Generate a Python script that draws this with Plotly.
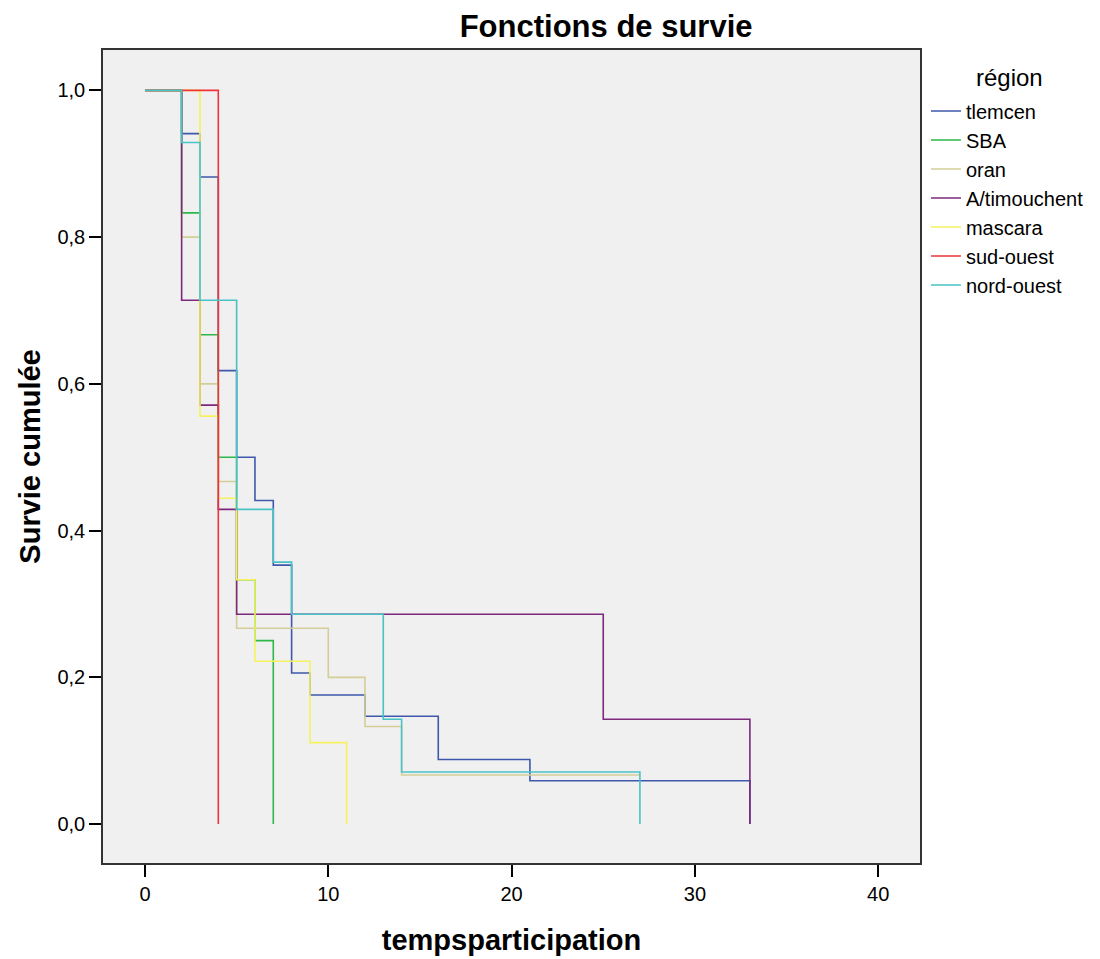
import plotly.graph_objects as go

# ---- data ----
regions = ["tlemcen", "SBA", "oran", "A/timouchent", "mascara", "sud-ouest", "nord-ouest"]

tlemcen_t = [0, 2, 3, 4, 5, 6, 7, 8, 9, 12, 16, 21, 33]
tlemcen_s = [1.0, 0.941, 0.882, 0.618, 0.500, 0.441, 0.353, 0.206, 0.176, 0.147, 0.088, 0.059, 0.0]

sba_t = [0, 2, 3, 4, 5, 6, 7]
sba_s = [1.0, 0.833, 0.667, 0.500, 0.333, 0.250, 0.0]

oran_t = [0, 2, 3, 4, 5, 10, 12, 14, 27]
oran_s = [1.0, 0.800, 0.600, 0.467, 0.267, 0.200, 0.133, 0.067, 0.067]

atim_t = [0, 2, 3, 4, 5, 25, 33]
atim_s = [1.0, 0.714, 0.571, 0.429, 0.286, 0.143, 0.0]

mascara_t = [0, 3, 4, 5, 6, 9, 11]
mascara_s = [1.0, 0.556, 0.444, 0.333, 0.222, 0.111, 0.0]

sudouest_t = [0, 4]
sudouest_s = [1.0, 0.0]

nordouest_t = [0, 2, 3, 5, 7, 8, 13, 14, 27]
nordouest_s = [1.0, 0.929, 0.714, 0.429, 0.357, 0.286, 0.143, 0.071, 0.0]

times = [tlemcen_t, sba_t, oran_t, atim_t, mascara_t, sudouest_t, nordouest_t]
survs = [tlemcen_s, sba_s, oran_s, atim_s, mascara_s, sudouest_s, nordouest_s]
colors = ["#3e58ac", "#2eb848", "#d3ce97", "#7c287d", "#f5f25e", "#ef3338", "#48c2c5"]

x_ticks = [0, 10, 20, 30, 40]
y_ticks = [0.0, 0.2, 0.4, 0.6, 0.8, 1.0]

FONT = "Liberation Sans, Arial, sans-serif"

fig = go.Figure()
for name, t, s, c in zip(regions, times, survs, colors):
    fig.add_trace(go.Scatter(
        x=t, y=s, mode="lines", name=name,
        line=dict(color=c, width=1.6, shape="hv"),
    ))

fig.update_layout(
    width=1100, height=959,
    margin=dict(l=103, r=180, t=50, b=96, autoexpand=False),
    paper_bgcolor="white",
    plot_bgcolor="#f0f0f0",
    separators=", ",
    font=dict(family=FONT, size=20, color="#000"),
    title=dict(text="<b>Fonctions de survie</b>", xref="container", x=0.551, xanchor="center",
               yref="container", y=0.973, yanchor="middle",
               font=dict(size=31, family=FONT, color="#000")),
    legend=dict(
        x=1.0073, xanchor="left", y=0.949, yanchor="top",
        font=dict(size=20, family=FONT, color="#000"),
        bgcolor="rgba(0,0,0,0)",
        tracegroupgap=0,
    ),
    showlegend=True,
    annotations=[dict(
        text="région", xref="paper", yref="paper",
        x=(1010 - 103) / 817, y=1 - (77 - 50) / 813,
        xanchor="center", yanchor="middle", showarrow=False,
        font=dict(size=24, family=FONT, color="#000"),
    )],
)

fig.update_xaxes(
    range=[-2.29, 42.28], tickvals=x_ticks, ticktext=[str(v) for v in x_ticks],
    showgrid=False, zeroline=False,
    showline=True, mirror=True, linecolor="#333", linewidth=1.5,
    ticks="outside", ticklen=12, tickwidth=1.5, tickcolor="#000",
    tickfont=dict(size=20, family=FONT),
    title=dict(text="<b>tempsparticipation</b>", font=dict(size=29, family=FONT), standoff=26),
)
fig.update_yaxes(
    range=[-0.053, 1.055], tickvals=y_ticks, tickformat=".1f",
    showgrid=False, zeroline=False,
    showline=True, mirror=True, linecolor="#333", linewidth=1.5,
    ticks="outside", ticklen=12, tickwidth=1.5, tickcolor="#000",
    tickfont=dict(size=20, family=FONT),
    title=dict(text="<b>Survie cumulée</b>", font=dict(size=29, family=FONT), standoff=8),
)

fig.write_html("out.html")
